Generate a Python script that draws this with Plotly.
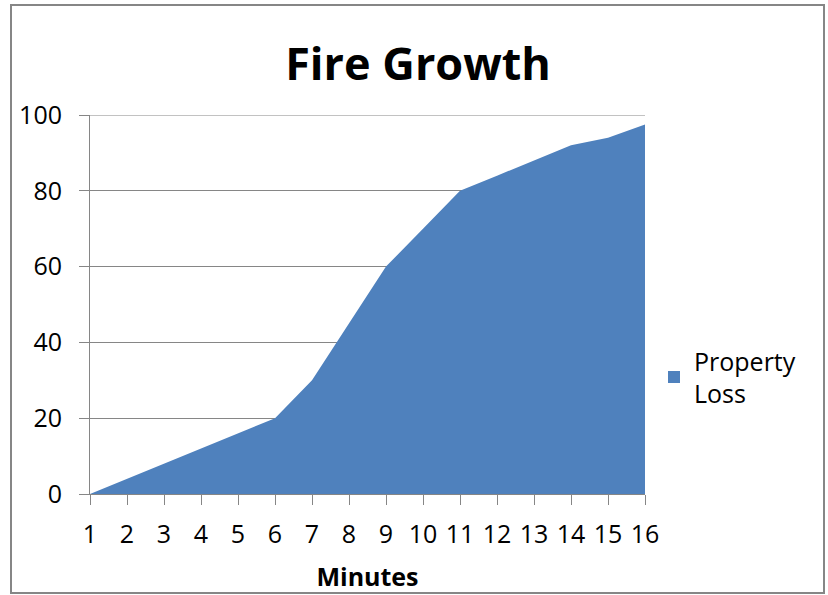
import plotly.graph_objects as go

minutes = list(range(1, 17))
property_loss = [0, 4, 8, 12, 16, 20, 30, 45, 60, 70, 80, 84, 88, 92, 94, 97.5]
y_ticks = [0, 20, 40, 60, 80, 100]

FONT = "Open Sans"
GRAY = "#868686"
BLUE = "#4F81BD"

fig = go.Figure()
fig.add_trace(go.Scatter(
    x=minutes, y=property_loss, mode="lines", fill="tozeroy",
    line=dict(color=BLUE, width=0), fillcolor=BLUE,
    name="Property<br>Loss", showlegend=False, legendgroup="pl",
))
# legend entry (square swatch like Excel)
fig.add_trace(go.Scatter(
    x=[None], y=[None], mode="markers",
    marker=dict(symbol="square", size=15, color=BLUE),
    name="Property<br>Loss", showlegend=True, legendgroup="pl",
))

L, R, T, B = 90, 645, 115, 494
W, H = 828, 595
pw, ph = R - L, B - T

fig.update_layout(
    width=W, height=H,
    margin=dict(l=L, r=W - R, t=T, b=H - B),
    paper_bgcolor="white", plot_bgcolor="white",
    title=dict(text="<b>Fire Growth</b>", x=(418 - L) / pw, xref="paper", xanchor="center",
               y=1 - 64 / H, yanchor="middle",
               font=dict(family=FONT, size=45, color="black")),
    font=dict(family=FONT, color="black"),
    legend=dict(x=(654 - L) / pw, xanchor="left", y=(494 - 377) / ph, yanchor="middle",
                xref="paper", yref="paper",
                font=dict(family=FONT, size=25, color="black"),
                itemsizing="constant", itemwidth=30, bgcolor="rgba(0,0,0,0)"),
    xaxis=dict(
        range=[1, 16], tickmode="array", tickvals=minutes, ticktext=[str(m) for m in minutes],
        showgrid=False, showline=True, linecolor=GRAY, linewidth=1,
        ticks="outside", ticklen=10, tickcolor=GRAY,
        tickfont=dict(family=FONT, size=25, color="black"),
        ticklabelstandoff=8, automargin=False,
        title=dict(text="<b>Minutes</b>", font=dict(family=FONT, size=25, color="black"), standoff=19),
        zeroline=False,
    ),
    yaxis=dict(
        range=[0, 100], tickmode="array", tickvals=y_ticks,
        showgrid=True, gridcolor=GRAY, gridwidth=1,
        showline=True, linecolor=GRAY, linewidth=1,
        ticks="outside", ticklen=10, tickcolor=GRAY,
        tickfont=dict(family=FONT, size=25, color="black"),
        ticklabelstandoff=12, zeroline=False, automargin=False,
    ),
)

# top gridline at 100 (plotly omits the one on the plot edge)
fig.add_hline(y=y_ticks[-1], line=dict(color=GRAY, width=1), layer="below")

# outer chart border
fig.add_shape(type="rect", xref="paper", yref="paper",
              x0=(11 - L) / pw, x1=(824 - L) / pw,
              y0=(B - 593) / ph, y1=(B - 5) / ph,
              line=dict(color=GRAY, width=2), fillcolor="rgba(0,0,0,0)", layer="below")

fig.write_html("out.html", config={"displayModeBar": False},
               post_script="document.body.style.margin='0px';")
